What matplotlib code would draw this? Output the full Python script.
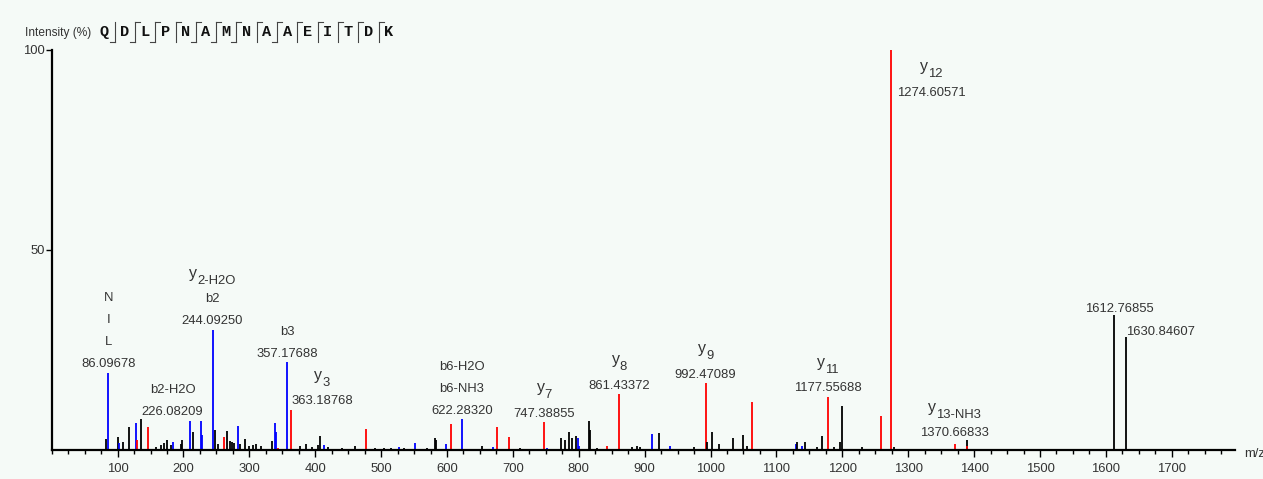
import matplotlib
matplotlib.use('Agg')
import matplotlib.pyplot as plt
from matplotlib.lines import Line2D
from matplotlib.ticker import MultipleLocator, FixedLocator

plt.rcParams['font.family'] = ['Liberation Sans', 'DejaVu Sans']

# peptide and fragment marks (boundary i sits after residue i)
sequence = list('QDLPNAMNAAEITDK')
b_marks = [1, 2, 3, 5, 6, 7, 9]
y_marks = [2, 3, 4, 5, 6, 7, 8, 9, 10, 11, 12, 13, 14]

# peak list: m/z, relative intensity (%), ion type ('b', 'y', '-' unassigned)
mz = [82.0, 86.09678, 100.0, 101.5, 108.7, 117.8, 128.0, 129.5, 135.5, 146.6,
      158.0, 166.0, 170.7, 174.5, 181.0, 183.6, 196.0, 198.5, 210.4, 215.0,
      226.08209, 227.5, 244.09250, 247.8, 252.0, 262.0, 266.5, 270.0, 273.0, 276.0,
      282.2, 286.0, 293.0, 300.0, 305.0, 310.0, 318.0, 334.8, 338.4, 340.0,
      344.0, 357.17688, 363.18768, 377.0, 386.0, 395.0, 404.0, 407.0, 413.0, 420.0,
      440.0, 460.0, 476.5, 490.0, 505.0, 515.0, 527.5, 535.0, 551.3, 570.0,
      582.0, 584.0, 599.0, 605.4, 622.28320, 653.6, 670.0, 675.2, 694.4, 711.0,
      747.38855, 752.0, 772.4, 779.0, 785.5, 789.6, 795.2, 799.0, 800.5, 815.8,
      817.0, 828.0, 842.7, 861.43372, 880.5, 889.0, 893.0, 911.4, 922.0, 939.0,
      975.0, 992.47089, 994.0, 1001.5, 1013.0, 1034.3, 1049.5, 1055.0, 1063.1, 1129.0,
      1130.5, 1138.6, 1142.7, 1161.0, 1169.7, 1177.55688, 1188.0, 1196.0, 1198.8, 1230.0,
      1258.0, 1274.60571, 1278.0, 1370.66833, 1388.5, 1389.0, 1612.76855, 1630.84607]
intensity = [2.8, 19.3, 3.3, 1.7, 2.1, 5.7, 6.8, 2.5, 7.7, 5.7,
             0.7, 1.2, 1.7, 2.5, 1.3, 2.1, 1.5, 2.5, 7.3, 4.6,
             7.3, 3.7, 30.0, 5.0, 1.5, 3.3, 4.8, 2.2, 2.0, 1.7,
             6.0, 1.5, 2.7, 1.0, 1.3, 1.5, 1.0, 2.3, 6.8, 4.6,
             0.6, 21.9, 10.0, 1.0, 1.5, 0.8, 1.2, 3.5, 1.2, 0.8,
             0.5, 1.0, 5.2, 0.5, 0.5, 0.6, 0.7, 0.5, 1.7, 0.5,
             3.1, 2.5, 1.4, 6.4, 7.7, 1.0, 0.7, 5.7, 3.3, 0.5,
             6.9, 0.5, 3.1, 2.5, 4.4, 3.1, 3.5, 3.1, 1.0, 7.3,
             5.0, 0.5, 1.0, 13.9, 0.7, 1.0, 0.8, 4.0, 4.2, 1.0,
             0.7, 16.7, 2.0, 4.4, 1.4, 3.1, 3.75, 1.0, 12.1, 1.4,
             2.0, 1.0, 2.0, 0.7, 3.5, 13.3, 0.7, 2.0, 11.1, 0.7,
             8.5, 100.0, 0.7, 1.5, 2.5, 1.0, 33.7, 28.3]
ion = ['-', 'b', '-', 'b', '-', '-', 'b', 'y', '-', 'y',
       '-', '-', '-', '-', '-', 'b', '-', '-', 'b', '-',
       'b', 'b', 'b', '-', '-', 'y', '-', '-', '-', '-',
       'b', '-', '-', '-', '-', '-', '-', '-', 'b', 'b',
       'y', 'b', 'y', '-', '-', '-', '-', '-', 'b', '-',
       '-', '-', 'y', '-', '-', '-', 'b', '-', 'b', '-',
       '-', '-', 'b', 'y', 'b', '-', 'b', 'y', 'y', '-',
       'y', 'b', '-', '-', '-', '-', '-', 'b', 'b', '-',
       '-', '-', 'y', 'y', '-', '-', '-', 'b', '-', 'b',
       '-', 'y', '-', '-', '-', '-', '-', '-', 'y', 'b',
       '-', 'b', '-', '-', '-', 'y', '-', '-', '-', '-',
       'y', 'y', '-', 'y', '-', 'y', '-', '-']

# annotated peaks; 'y|xx' means y with subscript xx
label_mz = [86.09678, 226.08209, 244.09250, 357.17688, 363.18768, 622.28320,
            747.38855, 861.43372, 992.47089, 1177.55688, 1274.60571, 1370.66833,
            1612.76855, 1630.84607]
label_text = [['N', 'I', 'L'], ['b2-H2O'], ['y|2-H2O', 'b2'], ['b3'], ['y|3'],
              ['b6-H2O', 'b6-NH3'], ['y|7'], ['y|8'], ['y|9'], ['y|11'], ['y|12'],
              ['y|13-NH3'], [], []]

ion_colors = {'b': '#0000ff', 'y': '#ff0000', '-': '#000000'}
bg = '#f5faf7'
txt = '#333333'

# label placement tweaks (pixels)
label_dx = {226.08209: -28, 363.18768: 31, 1274.60571: 40, 1612.76855: 5, 1630.84607: 34}
label_dy = {1274.60571: -41, 1370.66833: 12, 1630.84607: 6, 1612.76855: 8}
row_gap = 22

W, H = 1263, 479
fig = plt.figure(figsize=(W / 100, H / 100), dpi=100, facecolor=bg)
ax = fig.add_axes([51.7 / W, 29 / H, (1235 - 51.7) / W, 400 / H])
ax.set_facecolor(bg)

ax.vlines(mz, 0, intensity, colors=[ion_colors[t] for t in ion], lw=1.3)

ax.set_xlim(0, 1796)
ax.set_ylim(0, 100)
for s in ['top', 'right']:
    ax.spines[s].set_visible(False)
for s in ['left', 'bottom']:
    ax.spines[s].set_linewidth(1.6)
ax.xaxis.set_major_locator(FixedLocator(range(100, 1800, 100)))
ax.xaxis.set_minor_locator(MultipleLocator(25))
ax.yaxis.set_major_locator(FixedLocator([50, 100]))
ax.tick_params(axis='x', which='major', length=5, width=1, labelsize=9.4,
               labelcolor=txt, pad=4)
ax.tick_params(axis='x', which='minor', length=3, width=1)
ax.tick_params(axis='y', length=4, width=1, labelsize=9.4, labelcolor=txt, pad=1)
ax.annotate('m/z', xy=(1, 0), xycoords='axes fraction', xytext=(9, -4),
            textcoords='offset pixels', ha='left', va='center', fontsize=9.4,
            color=txt, annotation_clip=False)

# peak annotations
pairs = []
for m, lines in zip(label_mz, label_text):
    h = intensity[mz.index(m)]
    dx = label_dx.get(m, 0)
    base = label_dy.get(m, 10)
    rows = lines + ['%.5f' % m]
    for k, line in enumerate(reversed(rows)):
        c = base + row_gap * k
        if line.startswith('y|'):
            ty = ax.annotate('y', xy=(m, h), xytext=(dx, c - 2), textcoords='offset pixels',
                             ha='right', va='baseline', fontsize=11.5, color=txt,
                             annotation_clip=False)
            ts = ax.annotate(line[2:], xy=(m, h), xytext=(dx, c - 8), textcoords='offset pixels',
                             ha='left', va='baseline', fontsize=9.4, color=txt,
                             annotation_clip=False)
            pairs.append((ty, ts, dx))
        else:
            ax.annotate(line, xy=(m, h), xytext=(dx, c - 4.5), textcoords='offset pixels',
                        ha='center', va='baseline', fontsize=9.4, color=txt,
                        annotation_clip=False)

fig.canvas.draw()
r = fig.canvas.get_renderer()
for ty, ts, dx in pairs:
    wy = ty.get_window_extent(r).width
    ws = ts.get_window_extent(r).width
    x = dx - (wy + ws) / 2 + wy
    ty.xyann = (x, ty.xyann[1])
    ts.xyann = (x, ts.xyann[1])

# header: intensity label and sequence with fragment marks
def fx(x):
    return x / W

def fy(y):
    return 1 - y / H

fig.text(fx(25), fy(33), 'Intensity (%)', fontsize=8.6, color=txt, va='center', ha='left')
x0, step = 104.5, 20.3
for i, aa in enumerate(sequence):
    fig.text(fx(x0 + step * i), fy(32), aa, family='Liberation Mono', weight='bold',
             fontsize=11, color='#111111', ha='center', va='center')
for i in range(1, len(sequence)):
    bx = x0 + step * (i - 0.5)
    fig.add_artist(Line2D([fx(bx), fx(bx)], [fy(22), fy(42)], color='#444444', lw=0.8))
    if i in b_marks:
        fig.add_artist(Line2D([fx(bx - 5), fx(bx)], [fy(42), fy(42)], color='#444444', lw=0.8))
    if i in y_marks:
        fig.add_artist(Line2D([fx(bx), fx(bx + 5)], [fy(22), fy(22)], color='#444444', lw=0.8))

fig.savefig('out.png', dpi=100, facecolor=bg)
